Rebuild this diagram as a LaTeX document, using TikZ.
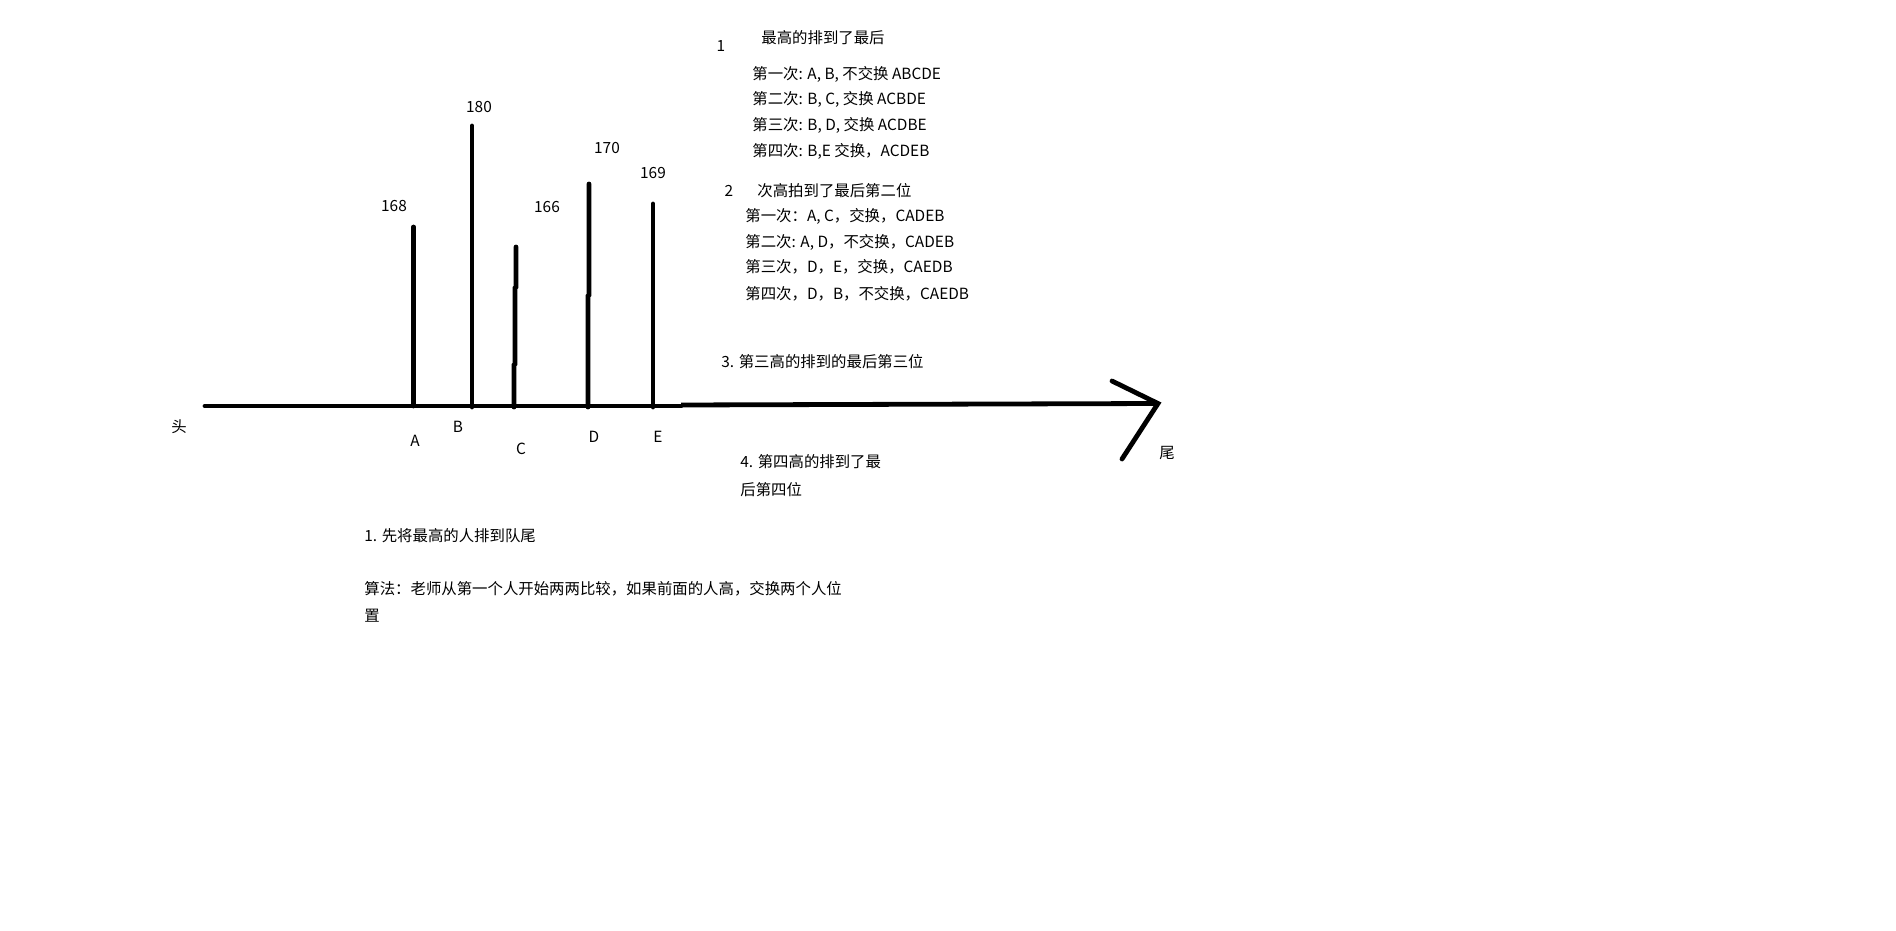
\documentclass[tikz,border=0pt]{standalone}
\usepackage{fontspec}
\setmainfont{Noto Sans CJK SC}
\usetikzlibrary{positioning}

\begin{document}
\begin{tikzpicture}[
    x=0.5pt, y=-0.5pt,
    font=\fontsize{7.7}{9}\selectfont,
    stroke/.style={line width=2.4pt, line cap=round},
    lbl/.style={inner sep=0pt},
    note/.style={inner sep=0pt, anchor=west}
]
\useasboundingbox (0,0) rectangle (1896,931);

% queue line with arrow
\coordinate (Head) at (205,406);
\coordinate (Joint) at (681,406);
\coordinate (JointUp) at (681,405);
\coordinate (Tail) at (1158,403.5);
\coordinate (TailUp) at (1112,381);
\coordinate (TailDown) at (1122,459);
\draw[stroke] (Head) -- (Joint);
\draw[stroke, line cap=butt] (JointUp) -- (Tail);
\draw[stroke] (TailUp) -- (Tail) -- (TailDown);

% people
\coordinate (Afoot) at (413.5,406);
\coordinate (Atop) at (413.5,227);
\coordinate (Bfoot) at (472,407);
\coordinate (Btop) at (472,126);
\coordinate (Cfoot) at (514,407);
\coordinate (Ctop) at (516,247);
\coordinate (Dfoot) at (588,407);
\coordinate (Dtop) at (589,184);
\coordinate (Efoot) at (653,407);
\coordinate (Etop) at (653,204);
\draw[stroke] (Afoot) -- (Atop);
\draw[stroke] (Bfoot) -- (Btop);
\draw[stroke] (Cfoot) -- (514,365) -- (515,364) -- (515,288) -- (516,287) -- (Ctop);
\draw[stroke] (Dfoot) -- (588,296) -- (589,295) -- (Dtop);
\draw[stroke] (Efoot) -- (Etop);

\node[lbl] (hA) at (394,206) {168};
\node[lbl] (hB) at (479,107) {180};
\node[lbl] (hC) at (547,207) {166};
\node[lbl] (hD) at (607,148) {170};
\node[lbl] (hE) at (653,173) {169};

\node[lbl] (nA) at (415,441) {A};
\node[lbl] (nB) at (458,427) {B};
\node[lbl] (nC) at (521,449) {C};
\node[lbl] (nD) at (594,437) {D};
\node[lbl] (nE) at (658,437) {E};

\node[lbl] (head) at (179,427) {头};
\node[lbl] (tail) at (1167,453) {尾};

% first pass
\node[lbl] (step1) at (721,46) {1};
\node[note] (step1t) at (761,38) {最高的排到了最后};
\node[note] (p11) at (752,74) {第一次: A, B, 不交换 ABCDE};
\node[note] (p12) at (752,99) {第二次: B, C, 交换 ACBDE};
\node[note] (p13) at (752,125) {第三次: B, D, 交换 ACDBE};
\node[note] (p14) at (752,151) {第四次: B,E 交换，ACDEB};

% second pass
\node[lbl] (step2) at (729,191) {2};
\node[note] (step2t) at (757,191) {次高拍到了最后第二位};
\node[note] (p21) at (745,216) {第一次：A, C，交换，CADEB};
\node[note] (p22) at (745,242) {第二次: A, D，不交换，CADEB};
\node[note] (p23) at (745,267) {第三次，D，E，交换，CAEDB};
\node[note] (p24) at (745,294) {第四次，D，B，不交换，CAEDB};

\node[note] (step3) at (721,362) {3. 第三高的排到的最后第三位};
\node[note] (step4) at (740,462) {4. 第四高的排到了最};
\node[note] (step4b) at (740,490) {后第四位};

\node[note] (rule) at (364,536) {1. 先将最高的人排到队尾};
\node[note] (algo) at (364,589) {算法：老师从第一个人开始两两比较，如果前面的人高，交换两个人位};
\node[note] (algob) at (364,616) {置};
\end{tikzpicture}
\end{document}
